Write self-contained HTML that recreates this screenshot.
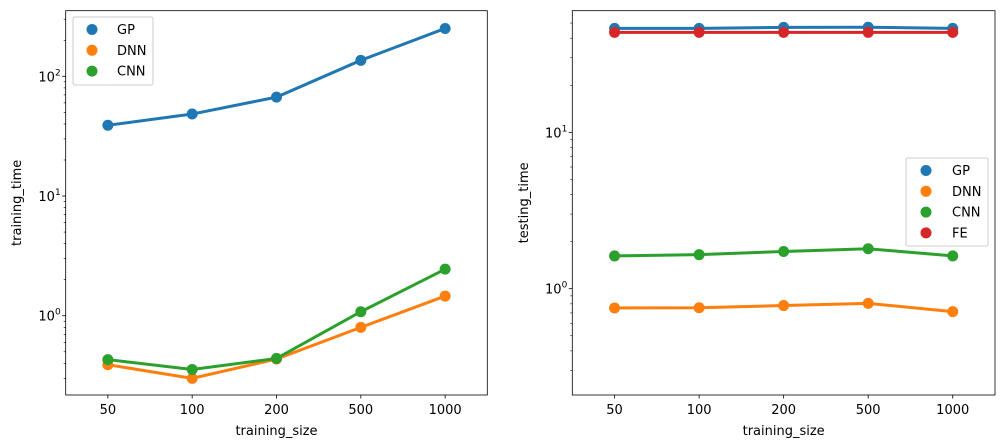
<!DOCTYPE html>
<html><head><meta charset="utf-8"><style>
body{margin:0;background:#fff}
svg{display:block;font-family:"DejaVu Sans","Liberation Sans",sans-serif}
</style></head><body>
<svg id="c" width="1004" height="448"></svg>
<script>
const categories=["50","100","200","500","1000"];
const seriesNames=["GP","DNN","CNN","FE"];
const colors=["#1f77b4","#ff7f0e","#2ca02c","#d62728"];
const trainGP=[39,48.4,67,136,251];
const trainDNN=[0.39,0.30,0.435,0.80,1.46];
const trainCNN=[0.43,0.356,0.44,1.08,2.45];
const testGP=[46.2,46.2,46.9,47,46.2];
const testDNN=[0.753,0.755,0.78,0.806,0.713];
const testCNN=[1.62,1.65,1.73,1.80,1.62];
const testFE=[43.6,43.6,43.6,43.6,43.6];
const NS="http://www.w3.org/2000/svg";
const svg=document.getElementById('c');
function mk(t,a,p){const e=document.createElementNS(NS,t);for(const k in a)e.setAttribute(k,a[k]);(p||svg).appendChild(e);return e;}
function panel(name,L,R,T,B,lmin,lmax,series,ylabel,ylabelX,legend){
  const g=mk('g',{});
  
  
  const xs=i=>L+(i+0.5)/categories.length*(R-L);
  const ys=v=>B-(Math.log10(v)-lmin)/(lmax-lmin)*(B-T);
  // ticks
  for(let d=Math.floor(lmin);d<=Math.ceil(lmax);d++){
    for(let m=1;m<10;m++){
      const lv=d+Math.log10(m);if(lv<lmin||lv>lmax)continue;
      const y=ys(Math.pow(10,lv));
      mk('line',{x1:L,x2:L-(m==1?3.5:2),y1:y,y2:y,stroke:'#000','stroke-width':m==1?0.8:0.6},g);
      if(m==1){const t=mk('text',{x:L-5,y:y+5,'text-anchor':'end','font-size':13},g);
        
        t.textContent='10';const s=mk('tspan',{dy:-6,'font-size':9},t);s.textContent=String(d);}
    }
  }
  categories.forEach((c,i)=>{const x=xs(i);
    mk('line',{x1:x,x2:x,y1:B,y2:B+3.5,stroke:'#000','stroke-width':0.8},g);
    const t=mk('text',{x:x,y:B+19,'text-anchor':'middle','font-size':13},g);
    t.textContent=c;});
  series.forEach((s,k)=>{
    const pts=s.vals.map((v,i)=>xs(i)+','+ys(v)).join(' ');
    const pl=mk('polyline',{points:pts,fill:'none',stroke:colors[s.c],'stroke-width':3},g);
    
    
    s.vals.forEach((v,i)=>{const p=mk('circle',{cx:xs(i),cy:ys(v),r:5.5,fill:colors[s.c]},g);
      
      });
  });
  mk('rect',{x:L,y:T,width:R-L,height:B-T,fill:'none',stroke:'#000','stroke-width':0.8},g);
  const xl=mk('text',{x:(L+R)/2,y:435,'text-anchor':'middle','font-size':13},g);
  xl.textContent='training_size';
  const yl=mk('text',{x:ylabelX,y:(T+B)/2,'text-anchor':'middle','font-size':13,transform:'rotate(-90 '+ylabelX+' '+(T+B)/2+')'},g);
  yl.textContent=ylabel;
  const lg=mk('g',{},g);
  
  mk('rect',{x:legend.x,y:legend.y,width:legend.w,height:legend.h,fill:'#fff','fill-opacity':0.8,stroke:'#ccc',rx:2},lg);
  series.forEach((s,k)=>{const y=legend.y+12.5+k*20.8;
    const e=mk('g',{},lg);
    
    mk('circle',{cx:legend.x+legend.mx,cy:y,r:5.5,fill:colors[s.c]},e);
    const t=mk('text',{x:legend.x+legend.tx,y:y+4.5,'font-size':13},e);t.textContent=seriesNames[s.c];});
}
panel('training-time-panel',65.7,487.3,10.7,395,-0.662,2.548,
  [{vals:trainGP,c:0},{vals:trainDNN,c:1},{vals:trainCNN,c:2}],'training_time',21,
  {x:73,y:17,w:80,h:68,mx:19,tx:44});
panel('testing-time-panel',572.3,995,10.7,395,-0.680,1.778,
  [{vals:testGP,c:0},{vals:testDNN,c:1},{vals:testCNN,c:2},{vals:testFE,c:3}],'testing_time',528,
  {x:906,y:158,w:82,h:88,mx:20,tx:46});
</script>
</body></html>
